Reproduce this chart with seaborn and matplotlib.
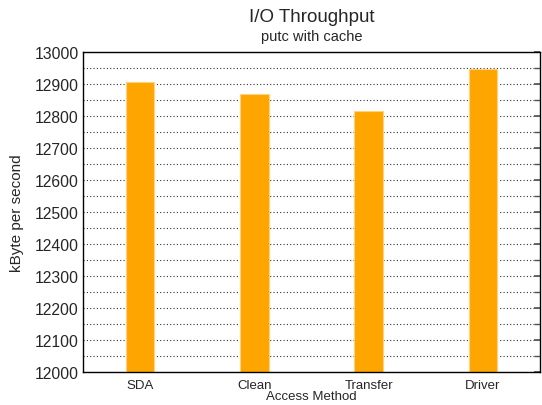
import matplotlib
matplotlib.use("Agg")
import matplotlib.pyplot as plt
import seaborn as sns
import pandas as pd
from matplotlib.ticker import MultipleLocator

categories = ["SDA", "Clean", "Transfer", "Driver"]
values = [12905, 12868, 12817, 12948]

sns.set_theme(style="white")
plt.rcParams['font.family'] = ['Liberation Sans', 'DejaVu Sans']

df = pd.DataFrame({"method": categories, "value": values})

fig = plt.figure(figsize=(5.42, 4.06), dpi=100)
ax = fig.add_axes([83/542, 1 - 373/406, 457/542, 320/406])
sns.barplot(data=df, x="method", y="value", ax=ax, color="#FFA500",
            width=0.25, edgecolor="#FFD27F", linewidth=0.8, saturation=1)
ax.set_ylim(12000, 13000)
ax.set_xlim(-0.5, 3.5)
ax.yaxis.set_major_locator(MultipleLocator(100))
ax.yaxis.set_minor_locator(MultipleLocator(50))
ax.grid(True, which="both", axis="y", linestyle=(0, (1, 2)), color="#333333", linewidth=0.8)
ax.set_axisbelow(True)
for s in ax.spines.values():
    s.set_color("black")
    s.set_linewidth(1.0)
ax.tick_params(axis="y", which="both", left=False, right=True, direction="in",
               length=4, labelsize=11.3, pad=3, color="#555555")
ax.tick_params(axis="x", bottom=False, length=0, labelsize=9.5, pad=5)
ax.set_xlabel("Access Method", fontsize=9.5)
ax.xaxis.set_label_coords(0.5, -18/320)
ax.set_ylabel("kByte per second", fontsize=11)
ax.yaxis.set_label_coords(-59/457, 0.5)
fig.text(0.5 + 41/542, 1 - 17/406, "I/O Throughput", ha="center", va="center", fontsize=13.5)
fig.text(0.5 + 41/542, 1 - 37/406, "putc with cache", ha="center", va="center", fontsize=10.5)
fig.savefig("out.png", dpi=100)
